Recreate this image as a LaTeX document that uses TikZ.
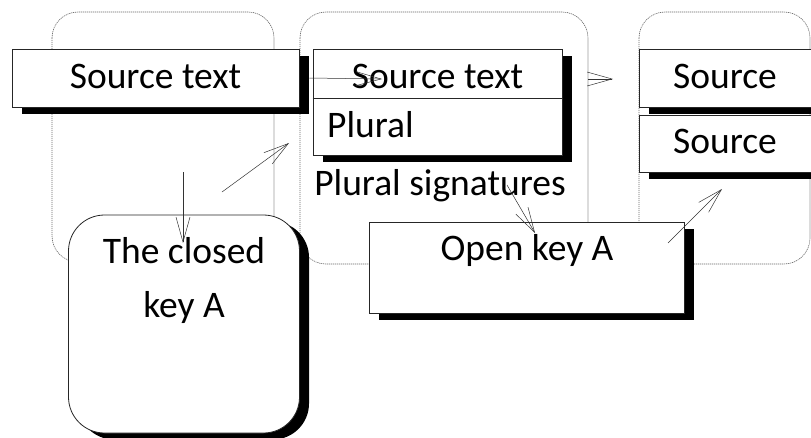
\documentclass[tikz,border=0pt]{standalone}
\usepackage{fontspec}
\setmainfont{Carlito}
\usetikzlibrary{arrows.meta,shadows}
\newcommand\lbl{\fontsize{37.5}{54}\selectfont}

\tikzset{
  group/.style={draw=black!60, dash pattern=on 1.2pt off 0.8pt, line width=0.6pt, rounded corners=26pt},
  box/.style={draw=black!85, line width=0.8pt, fill=white, inner sep=0pt,
    drop shadow={shadow xshift=9.5pt, shadow yshift=-6.5pt, fill=black, opacity=1}},
  txt/.style={font=\lbl, inner sep=0pt},
  link/.style={-{Straight Barb[length=25pt,width=14pt]}, line width=0.5pt, draw=black!80}
}

\begin{document}
\begin{tikzpicture}[x=1pt, y=-1pt]
  \useasboundingbox (0,0) rectangle (811,437);

  % dotted group frames
  \draw[group] (52,12) rectangle (274,262);
  \draw[group] (300,12) rectangle (588,264);
  \draw[group] (639,12) rectangle (810,264);

  % first column
  \node[box, minimum width=287pt, minimum height=58pt] (s1) at (155.5,78) {};
  \node[txt, anchor=base] (s1t) at (155.5,88) {Source text};

  % second column: two-part box
  \node[box, minimum width=249pt, minimum height=106pt] (p2) at (437.5,102) {};
  \coordinate (divy) at (0,98);
  \draw[black!85, line width=0.8pt] (p2.west |- divy) -- (p2.east |- divy);
  \node[txt, anchor=base] (s2t) at (437.5,88) {Source text};
  \node[txt, anchor=base west] (plt) at (327,137) {Plural};
  \node[txt, anchor=base] (sig) at (440,195) {Plural signatures};

  % third column
  \node[box, minimum width=200pt, minimum height=58pt, anchor=west] (s3a) at (639,78) {};
  \node[txt, anchor=base] (s3at) at (725,88) {Source};
  \node[box, minimum width=200pt, minimum height=57pt, anchor=west] (s3b) at (639,143.5) {};
  \node[txt, anchor=base] (s3bt) at (725,153) {Source};

  % keys
  \node[box, rounded corners=36pt, minimum width=231pt, minimum height=218pt] (closed) at (184,324) {};
  \node[txt, align=center, anchor=base] (closedt) at (184,317) {The closed\\key A};
  \node[box, minimum width=315pt, minimum height=91pt] (open) at (526.5,267.5) {};
  \node[txt, anchor=base] (opent) at (527,260) {Open key A};

  % connectors
  \coordinate (a1s) at ([xshift=10pt]s1.east);
  \coordinate (a1e) at (382,79);
  \draw[link] (a1s) -- (a1e);

  \coordinate (a2s) at (222,192);
  \coordinate (a2e) at (289,143);
  \draw[link] (a2s) -- (a2e);

  \coordinate (a3s) at (183,172);
  \coordinate (a3e) at (183,243);
  \draw[link] (a3s) -- (a3e);

  \coordinate (a4s) at (588,79);
  \coordinate (a4e) at (613,79);
  \draw[link] (a4s) -- (a4e);

  \coordinate (a5s) at (507,185);
  \coordinate (a5e) at (535,233);
  \draw[link] (a5s) -- (a5e);

  \coordinate (a6s) at (668,243);
  \coordinate (a6e) at (722,189);
  \draw[link] (a6s) -- (a6e);
\end{tikzpicture}
\end{document}
